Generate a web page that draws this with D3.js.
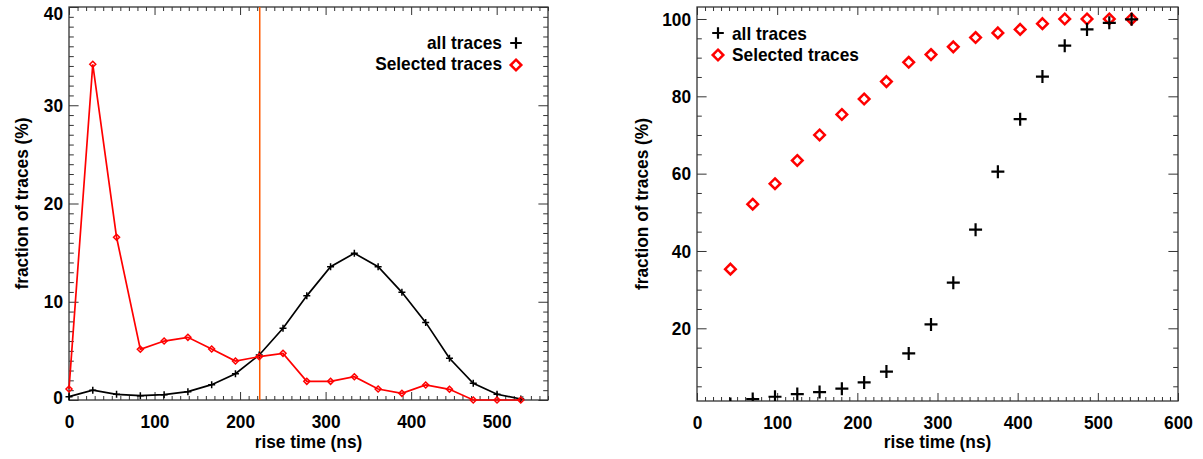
<!DOCTYPE html>
<html><head><meta charset="utf-8">
<script src="https://cdn.jsdelivr.net/npm/d3@7"></script>
<style>
body{margin:0;background:#fff;}
svg text{font-family:"Liberation Sans",Arial,sans-serif;font-weight:bold;fill:#000;}
</style></head><body>
<svg id="c" width="1203" height="459"></svg>
<script>
// ---- data ----
const binX = [0,27.8,55.6,83.4,111.2,139,166.8,194.6,222.4,250.2,278,305.8,333.6,361.4,389.2,417,444.8,472.6,500.4,528.2];
const histAll = [0.34,1.0,0.58,0.44,0.54,0.85,1.56,2.68,4.58,7.3,10.6,13.57,14.93,13.57,10.96,7.9,4.24,1.7,0.58,0.1];
const histSel = [1.12,34.17,16.56,5.16,6.0,6.38,5.19,3.97,4.41,4.75,1.9,1.9,2.37,1.12,0.68,1.53,1.09,0,0,0];
const cutRise = 223;
const cumX = [41.7,69.5,97.3,125.1,152.9,180.7,208.5,236.3,264.1,291.9,319.7,347.5,375.3,403.1,430.9,458.7,486.5,514.3,542.1];
const cumAll = [0.4,1.7,2.3,3.0,3.5,4.4,6.0,8.8,13.5,21.0,31.8,45.5,60.5,74.1,85.1,93.1,97.3,99.0,99.9];
const cumSel = [35.3,52.1,57.4,63.4,70.0,75.3,79.3,83.8,88.8,90.8,92.8,95.2,96.4,97.3,98.8,100,100,100,100];
const leftXTicks = [0,100,200,300,400,500];
const leftYTicks = [0,10,20,30,40];
const rightXTicks = [0,100,200,300,400,500,600];
const rightYTicks = [20,40,60,80,100];
const legendLabels = ["all traces","Selected traces"];
const xTitle = "rise time (ns)", yTitle = "fraction of traces (%)";

const svg = d3.select("#c");
const AX = "#333";
const plusPath = s => `M${-s},0H${s}M0,${-s}V${s}`;
const diamPath = s => `M0,${-s}L${s},0L0,${s}L${-s},0Z`;

function frame(o) {
  const g = svg.append("g");
  const x = d3.scaleLinear().domain(o.xd).range([o.l, o.r]);
  const y = d3.scaleLinear().domain(o.yd).range([o.b, o.t]);
  const xMinor = d3.range(o.xd[0], o.xd[1] + 0.001, o.xMinorStep).filter(v => !o.xTicks.includes(v));
  const yMinor = d3.range(Math.ceil(o.yd[0] / o.yMinorStep) * o.yMinorStep, o.yd[1] + 0.001, o.yMinorStep).filter(v => !o.yTicks.includes(v));
  const XT = 8, YT = 9.6;
  const style = sel => { sel.select(".domain").remove(); sel.selectAll("line").attr("stroke", AX).attr("stroke-width", 1); sel.selectAll("text").attr("font-size", 19).attr("fill", "#000"); };
  // bottom
  g.append("g").attr("transform", `translate(0,${o.b})`).call(d3.axisBottom(x).tickValues(o.xTicks).tickSizeInner(-XT).tickSizeOuter(0).tickPadding(14.5).tickFormat(d3.format("d"))).call(style);
  g.append("g").attr("transform", `translate(0,${o.b})`).call(d3.axisBottom(x).tickValues(xMinor).tickSize(-XT / 2).tickFormat("")).call(style);
  // top
  g.append("g").attr("transform", `translate(0,${o.t})`).call(d3.axisTop(x).tickValues(o.xTicks).tickSize(-XT).tickFormat("")).call(style);
  g.append("g").attr("transform", `translate(0,${o.t})`).call(d3.axisTop(x).tickValues(xMinor).tickSize(-XT / 2).tickFormat("")).call(style);
  // left
  const yl = g.append("g").attr("transform", `translate(${o.l},0)`).call(d3.axisLeft(y).tickValues(o.yTicks).tickSizeInner(-YT).tickSizeOuter(0).tickPadding(6).tickFormat(d3.format("d"))).call(style);
  if (o.yNudge) yl.selectAll(".tick text").attr("y", d => o.yNudge[d] || 0);
  g.append("g").attr("transform", `translate(${o.l},0)`).call(d3.axisLeft(y).tickValues(yMinor).tickSize(-YT / 2).tickFormat("")).call(style);
  // right
  g.append("g").attr("transform", `translate(${o.r},0)`).call(d3.axisRight(y).tickValues(o.yTicks).tickSize(-YT).tickFormat("")).call(style);
  g.append("g").attr("transform", `translate(${o.r},0)`).call(d3.axisRight(y).tickValues(yMinor).tickSize(-YT / 2).tickFormat("")).call(style);
  // box
  g.append("rect").attr("x", o.l).attr("y", o.t).attr("width", o.r - o.l).attr("height", o.b - o.t)
    .attr("fill", "none").attr("stroke", AX).attr("stroke-width", 1.3);
  // titles
  g.append("text").attr("x", (o.l + o.r) / 2).attr("y", 448).attr("text-anchor", "middle").attr("font-size", 19).text(xTitle);
  g.append("text").attr("transform", `translate(${o.yTitleX},${(o.t + o.b) / 2}) rotate(-90)`).attr("text-anchor", "middle").attr("font-size", 19).text(yTitle);
  return {g, x, y};
}

// ---- left panel ----
const L = frame({l: 69, r: 548, t: 7, b: 400, xd: [0, 560], yd: [0, 40], xTicks: leftXTicks, yTicks: leftYTicks, xMinorStep: 10, yMinorStep: 1, yTitleX: 28, yNudge: {40: 6.5, 0: -2.5}});
{
  const {g, x, y} = L;
  g.append("line").attr("x1", x(cutRise)).attr("x2", x(cutRise)).attr("y1", y(40)).attr("y2", y(0))
    .attr("stroke", "#ff5a00").attr("stroke-width", 1.5);
  const line = d3.line().x((d, i) => x(binX[i])).y(d => y(d));
  g.append("path").datum(histAll).attr("d", line).attr("fill", "none").attr("stroke", "#000").attr("stroke-width", 1.7);
  g.selectAll(".pa").data(histAll).join("path").attr("transform", (d, i) => `translate(${x(binX[i])},${y(d)})`)
    .attr("d", plusPath(3.5)).attr("stroke", "#000").attr("stroke-width", 1.5).attr("fill", "none");
  g.append("path").datum(histSel).attr("d", line).attr("fill", "none").attr("stroke", "#f00").attr("stroke-width", 1.7);
  g.selectAll(".ps").data(histSel).join("path").attr("transform", (d, i) => `translate(${x(binX[i])},${y(d)})`)
    .attr("d", diamPath(3)).attr("stroke", "#f00").attr("stroke-width", 1.5).attr("fill", "none");
  // legend
  g.append("text").attr("x", 502).attr("y", 49).attr("text-anchor", "end").attr("font-size", 19).text(legendLabels[0]);
  g.append("text").attr("x", 502).attr("y", 70).attr("text-anchor", "end").attr("font-size", 19).text(legendLabels[1]);
  g.append("path").attr("transform", "translate(516,43)").attr("d", plusPath(5.8)).attr("stroke", "#000").attr("stroke-width", 2.2);
  g.append("path").attr("transform", "translate(516,65)").attr("d", diamPath(5.3)).attr("stroke", "#f00").attr("stroke-width", 2.5).attr("fill", "none");
}

// ---- right panel ----
const R = frame({l: 697, r: 1178, t: 7, b: 401, xd: [0, 600], yd: [1.2, 103.1], xTicks: rightXTicks, yTicks: rightYTicks, xMinorStep: 10, yMinorStep: 5, yTitleX: 648});
{
  const {g, x, y} = R;
  svg.append("defs").append("clipPath").attr("id", "clipR").append("rect")
    .attr("x", 697).attr("y", 0).attr("width", 481).attr("height", 401);
  const m = g.append("g").attr("clip-path", "url(#clipR)");
  m.selectAll(".ps").data(cumSel).join("path").attr("transform", (d, i) => `translate(${x(cumX[i])},${y(d)})`)
    .attr("d", diamPath(5.3)).attr("stroke", "#f00").attr("stroke-width", 2.5).attr("fill", "none");
  m.selectAll(".pa").data(cumAll).join("path").attr("transform", (d, i) => `translate(${x(cumX[i])},${y(d)})`)
    .attr("d", plusPath(6.5)).attr("stroke", "#000").attr("stroke-width", 2.2).attr("fill", "none");
  // legend
  g.append("path").attr("transform", "translate(718,33)").attr("d", plusPath(5.8)).attr("stroke", "#000").attr("stroke-width", 2.2);
  g.append("path").attr("transform", "translate(718,55)").attr("d", diamPath(5.3)).attr("stroke", "#f00").attr("stroke-width", 2.5).attr("fill", "none");
  g.append("text").attr("x", 732).attr("y", 39.5).attr("font-size", 19).text(legendLabels[0]);
  g.append("text").attr("x", 732).attr("y", 60.5).attr("font-size", 19).text(legendLabels[1]);
}

// condensed look: compress glyphs horizontally
svg.selectAll("text").each(function () {
  const w = this.getComputedTextLength();
  if (w > 0) { this.setAttribute("textLength", (w * 0.91).toFixed(2)); this.setAttribute("lengthAdjust", "spacingAndGlyphs"); }
});
</script>
</body></html>
